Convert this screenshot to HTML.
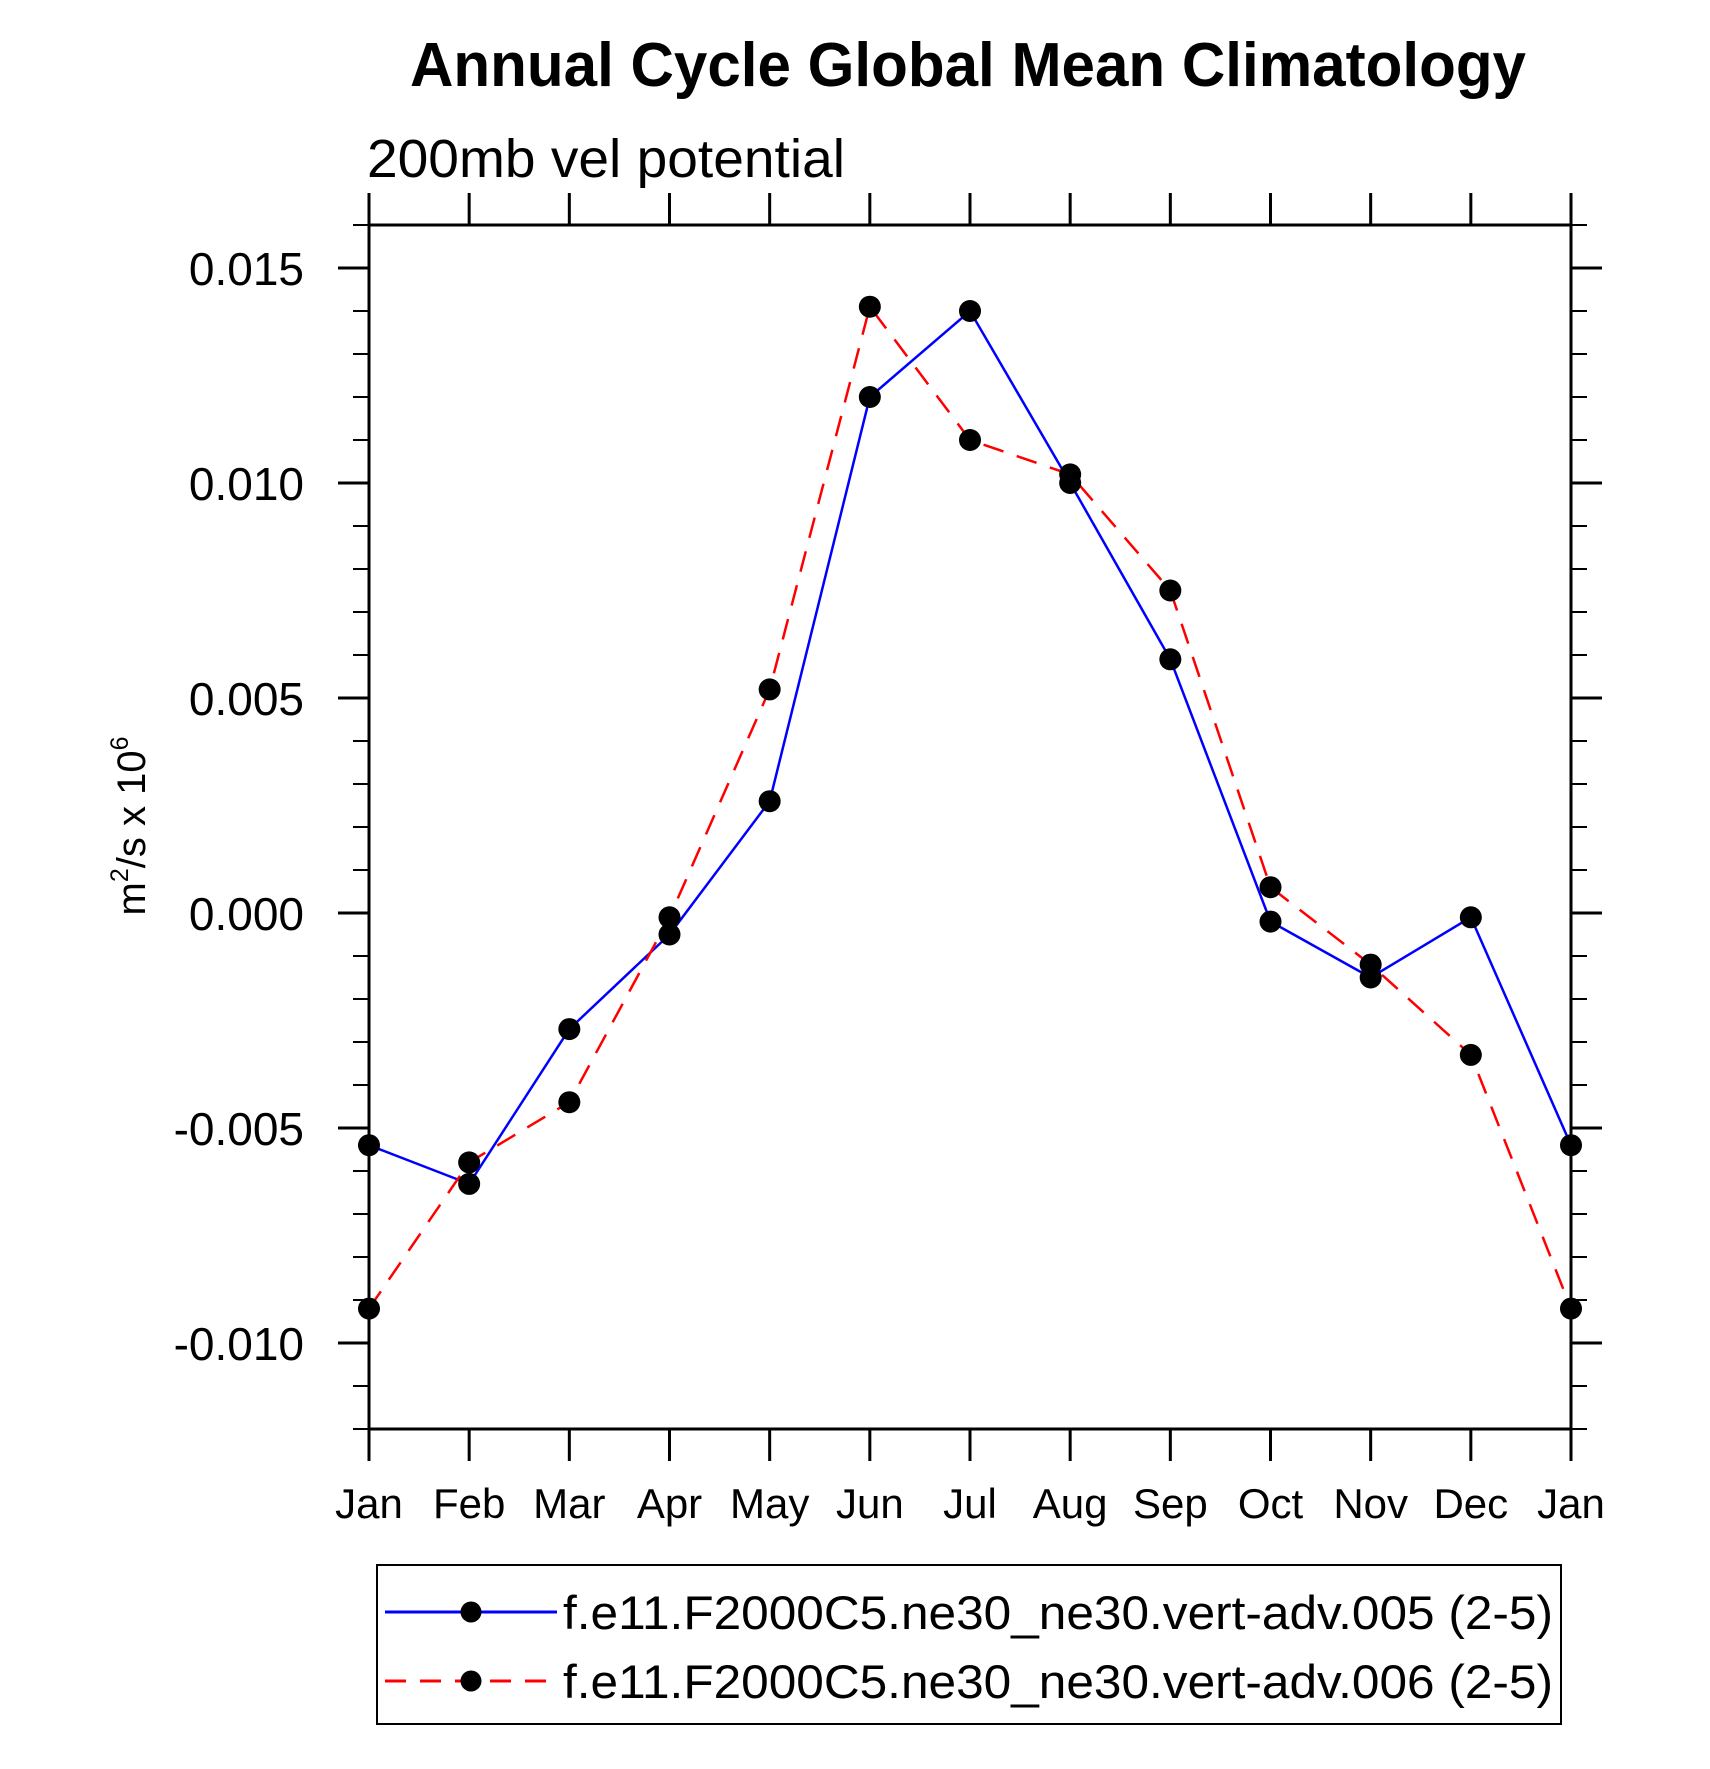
<!DOCTYPE html>
<html><head><meta charset="utf-8"><style>
html,body{margin:0;padding:0;background:#fff;}
svg{display:block;font-family:"Liberation Sans",Arial,sans-serif;}
</style></head><body>
<svg id="chart" width="1710" height="1769" viewBox="0 0 1710 1769" xmlns="http://www.w3.org/2000/svg">
<rect width="1710" height="1769" fill="#fff"/>
<text x="968" y="86" font-size="62" font-weight="bold" text-anchor="middle" textLength="1116" lengthAdjust="spacingAndGlyphs">Annual Cycle Global Mean Climatology</text>
<text x="367" y="177" font-size="54" textLength="478" lengthAdjust="spacingAndGlyphs">200mb vel potential</text>
<text transform="translate(145,826) rotate(-90)" font-size="40" text-anchor="middle">m<tspan font-size="25" dy="-17">2</tspan><tspan dy="17">/s x 10</tspan><tspan font-size="25" dy="-17">6</tspan></text>
<g id="axes"></g>
<g id="series"></g>
<g>
<rect x="377" y="1565" width="1184" height="159" fill="none" stroke="#000" stroke-width="2"/>
<g>
<line x1="385" y1="1612" x2="557" y2="1612" stroke="#0000ff" stroke-width="3"/>
<circle cx="471" cy="1612" r="10.5" fill="#000"/>
<text x="563" y="1629" font-size="47" textLength="990" lengthAdjust="spacingAndGlyphs">f.e11.F2000C5.ne30_ne30.vert-adv.005 (2-5)</text>
</g>
<g>
<line x1="385" y1="1681" x2="557" y2="1681" stroke="#ff0000" stroke-width="3" stroke-dasharray="21,14"/>
<circle cx="471" cy="1681" r="10.5" fill="#000"/>
<text x="563" y="1698" font-size="47" textLength="990" lengthAdjust="spacingAndGlyphs">f.e11.F2000C5.ne30_ne30.vert-adv.006 (2-5)</text>
</g>
</g>
</svg>
<script>
const months = ["Jan","Feb","Mar","Apr","May","Jun","Jul","Aug","Sep","Oct","Nov","Dec","Jan"];
const series005 = [-0.0054,-0.0063,-0.0027,-0.0005,0.0026,0.0120,0.0140,0.0100,0.0059,-0.0002,-0.0015,-0.0001,-0.0054];
const series006 = [-0.0092,-0.0058,-0.0044,-0.0001,0.0052,0.0141,0.0110,0.0102,0.0075,0.0006,-0.0012,-0.0033,-0.0092];
const yTickValues = [-0.010,-0.005,0.000,0.005,0.010,0.015];
const yTickLabels = ["-0.010","-0.005","0.000","0.005","0.010","0.015"];
const yMin = -0.012, yMax = 0.016;

const L=369, R=1571, T=225, B=1429;
const NS="http://www.w3.org/2000/svg";
function xs(i){return L+(R-L)*i/(months.length-1);}
function ys(v){return B-(v-yMin)/(yMax-yMin)*(B-T);}
function mk(tag,attrs,parent){const e=document.createElementNS(NS,tag);for(const k in attrs)e.setAttribute(k,attrs[k]);parent.appendChild(e);return e;}

const axes=document.getElementById('axes');
const frame=mk('rect',{x:L,y:T,width:R-L,height:B-T,fill:'none',stroke:'#000','stroke-width':3},axes);


months.forEach((m,i)=>{
  const x=xs(i);
  const t1=mk('line',{x1:x,y1:B,x2:x,y2:B+32,stroke:'#000','stroke-width':3},axes);
  
  
  const t2=mk('line',{x1:x,y1:T,x2:x,y2:T-32,stroke:'#000','stroke-width':3},axes);
  
  
  const lb=mk('text',{x:x,y:1518,'font-size':42,'text-anchor':'middle'},axes);
  lb.textContent=m;
  
  
});
for(let k=-12;k<=16;k++){
  const v=k/1000, y=ys(v);
  const major=(k%5===0);
  const len=major?31:16;
  const a=mk('line',{x1:L,y1:y,x2:L-len,y2:y,stroke:'#000','stroke-width':major?3:2},axes);
  
  
  const b=mk('line',{x1:R,y1:y,x2:R+len,y2:y,stroke:'#000','stroke-width':major?3:2},axes);
  
  
}
yTickValues.forEach((v,i)=>{
  const lb=mk('text',{x:304,y:ys(v)+17,'font-size':46,'text-anchor':'end'},axes);
  lb.textContent=yTickLabels[i];
  
  
});
const sg=document.getElementById('series');
function drawSeries(vals,color,dash,name){
  const pts=vals.map((v,i)=>xs(i)+','+ys(v)).join(' ');
  const pl=mk('polyline',{points:pts,fill:'none',stroke:color,'stroke-width':2.5},sg);
  if(dash)pl.setAttribute('stroke-dasharray',dash);
  
  
}
function drawMarkers(vals,name){
  vals.forEach((v,i)=>{
    const c=mk('circle',{cx:xs(i),cy:ys(v),r:11,fill:'#000'},sg);
    
    
  });
}
drawSeries(series005,'#0000ff',null,'series-005');
drawSeries(series006,'#ff0000','21,14','series-006');
drawMarkers(series005,'series-005');
drawMarkers(series006,'series-006');
</script>
</body></html>
